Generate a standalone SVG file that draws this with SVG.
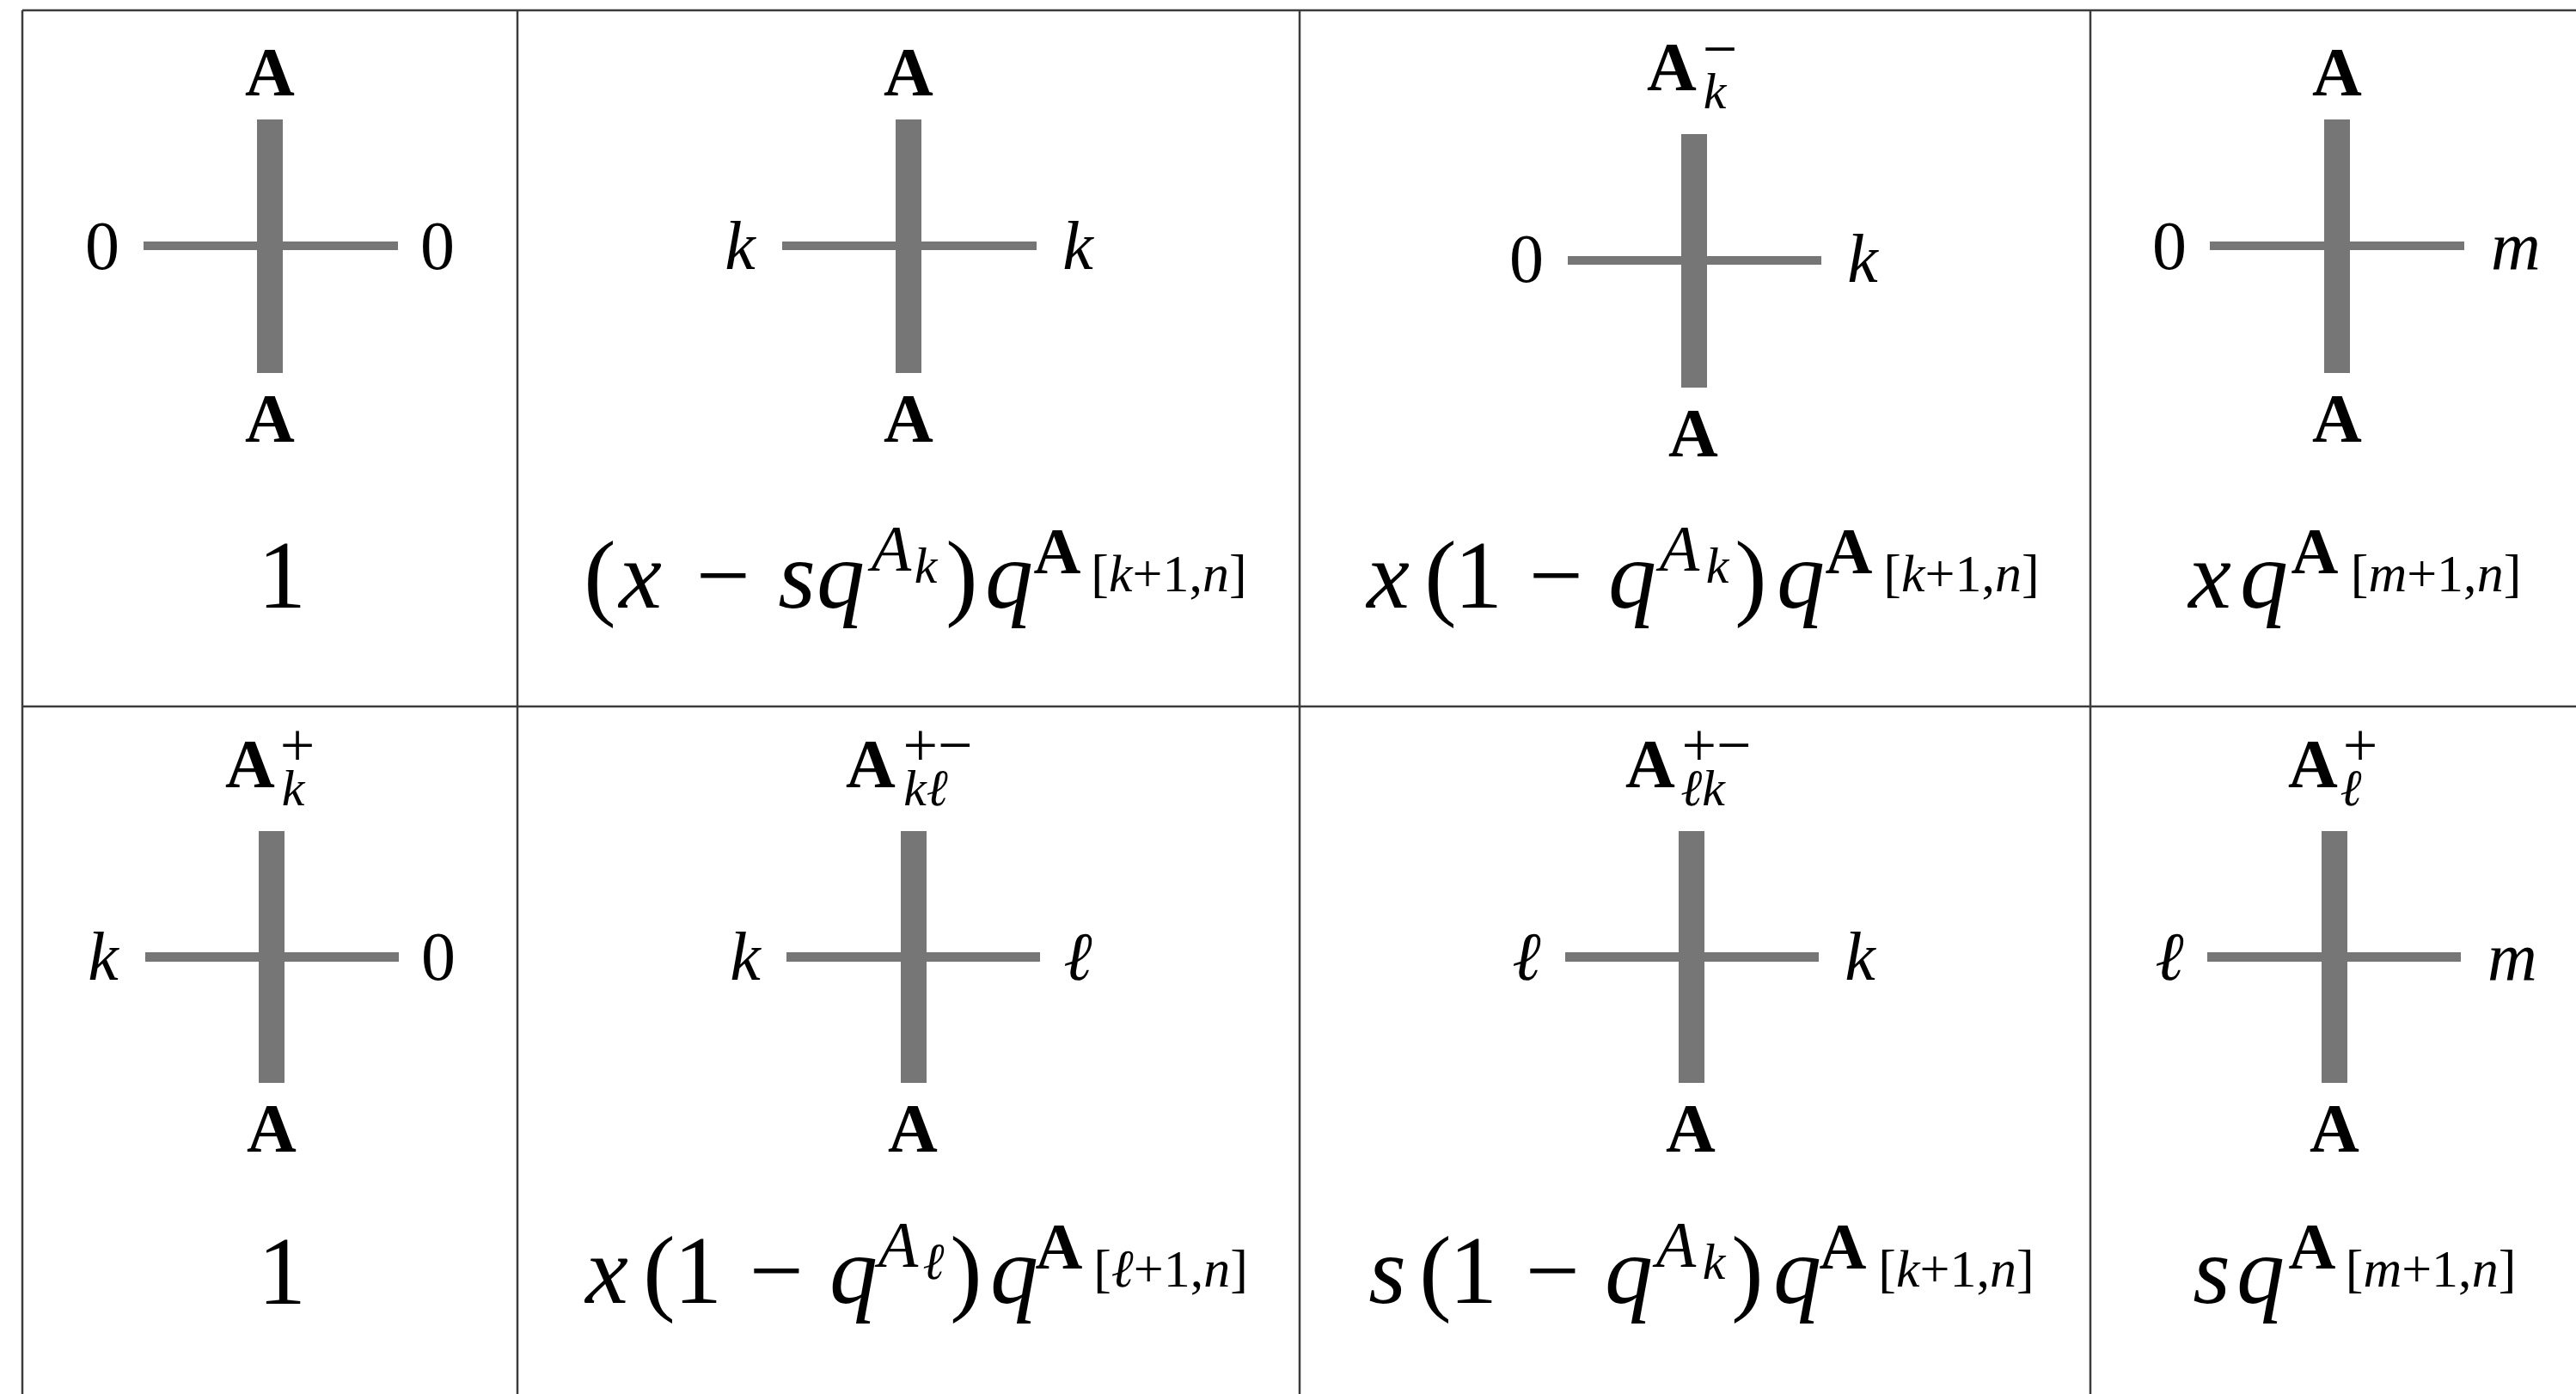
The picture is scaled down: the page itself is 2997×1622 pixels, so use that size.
<svg xmlns="http://www.w3.org/2000/svg" width="2997" height="1622" viewBox="0 0 2997 1622">
<style>
.bar{fill:#767676}
#grid line{stroke:#3c3c3c;stroke-width:2.5}
text{font-family:"Liberation Serif","DejaVu Serif",serif;fill:#000;text-anchor:middle}
.L{font-size:80px}
.b{font-weight:bold}
.i{font-style:italic}
.S{font-size:60px;font-weight:normal}
.P{font-size:72px;font-weight:normal;font-style:normal}
.F{font-size:112px}
.U{font-size:76px}
.D{font-size:60px}
.T{font-size:62px}
</style>
<rect width="2997" height="1622" fill="#fff"/>
<g id="grid">
<line x1="26" y1="12" x2="2997" y2="12"/>
<line x1="26" y1="822" x2="2997" y2="822"/>
<line x1="26" y1="12" x2="26" y2="1622"/>
<line x1="602" y1="12" x2="602" y2="1622"/>
<line x1="1512" y1="12" x2="1512" y2="1622"/>
<line x1="2432" y1="12" x2="2432" y2="1622"/>
</g>

<g id="cell-r1c1">
<rect class="bar" x="167" y="281" width="296" height="10"/>
<rect class="bar" x="299" y="139" width="30" height="295"/>
<text class="L b" x="314" y="111">A</text>
<text class="L" x="119" y="313">0</text>
<text class="L" x="509" y="313">0</text>
<text class="L b" x="314" y="514">A</text>
<text class="F" x="328" y="707">1</text>
</g>

<g id="cell-r1c2">
<rect class="bar" x="910" y="281" width="296" height="10"/>
<rect class="bar" x="1042" y="139" width="30" height="295"/>
<text class="L b" x="1057" y="111">A</text>
<text class="L i" x="861" y="313">k</text>
<text class="L i" x="1254" y="313">k</text>
<text class="L b" x="1057" y="514">A</text>
<text class="F" x="698" y="707">(</text>
<text class="F i" x="745" y="707">x</text>
<text class="F" x="841" y="707">−</text>
<text class="F i" x="927" y="707">s</text>
<text class="F i" x="978" y="707">q</text>
<text class="U i" x="1037" y="664">A</text>
<text class="D i" x="1077" y="678">k</text>
<text class="F" x="1119" y="707">)</text>
<text class="F i" x="1174" y="707">q</text>
<text class="U b" x="1230" y="667">A</text>
<text class="T" x="1360" y="688">[<tspan class="i">k</tspan>+1,<tspan class="i">n</tspan>]</text>
</g>

<g id="cell-r1c3">
<rect class="bar" x="1824" y="298" width="295" height="10"/>
<rect class="bar" x="1956" y="156" width="30" height="295"/>
<text class="L b" x="1945" y="105">A<tspan class="S i" x="1995" y="126">k</tspan><tspan class="P" x="2001" y="81">−</tspan></text>
<text class="L" x="1776" y="328">0</text>
<text class="L i" x="2167" y="328">k</text>
<text class="L b" x="1970" y="531">A</text>
<text class="F i" x="1615" y="707">x</text>
<text class="F" x="1676" y="707">(</text>
<text class="F" x="1720" y="707">1</text>
<text class="F" x="1810" y="707">−</text>
<text class="F i" x="1899" y="707">q</text>
<text class="U i" x="1954" y="664">A</text>
<text class="D i" x="1998" y="678">k</text>
<text class="F" x="2037" y="707">)</text>
<text class="F i" x="2095" y="707">q</text>
<text class="U b" x="2151" y="667">A</text>
<text class="T" x="2282" y="688">[<tspan class="i">k</tspan>+1,<tspan class="i">n</tspan>]</text>
</g>

<g id="cell-r1c4">
<rect class="bar" x="2571" y="281" width="296" height="10"/>
<rect class="bar" x="2704" y="139" width="30" height="295"/>
<text class="L b" x="2719" y="111">A</text>
<text class="L" x="2524" y="313">0</text>
<text class="L i" x="2927" y="313">m</text>
<text class="L b" x="2719" y="514">A</text>
<text class="F i" x="2571" y="707">x</text>
<text class="F i" x="2634" y="707">q</text>
<text class="U b" x="2693" y="667">A</text>
<text class="T" x="2834" y="688">[<tspan class="i">m</tspan>+1,<tspan class="i">n</tspan>]</text>
</g>

<g id="cell-r2c1">
<rect class="bar" x="169" y="1108" width="295" height="11"/>
<rect class="bar" x="301" y="967" width="30" height="293"/>
<text class="L b" x="291" y="916">A<tspan class="S i" x="341" y="937">k</tspan><tspan class="P" x="346" y="891">+</tspan></text>
<text class="L i" x="120" y="1140">k</text>
<text class="L" x="510" y="1140">0</text>
<text class="L b" x="316" y="1340">A</text>
<text class="F" x="328" y="1517">1</text>
</g>

<g id="cell-r2c2">
<rect class="bar" x="915" y="1108" width="295" height="11"/>
<rect class="bar" x="1048" y="967" width="30" height="293"/>
<text class="L b" x="1013" y="916">A<tspan class="S i" x="1077" y="937">kℓ</tspan><tspan class="P" x="1091" y="891">+−</tspan></text>
<text class="L i" x="867" y="1140">k</text>
<text class="L i" x="1254" y="1140">ℓ</text>
<text class="L b" x="1062" y="1340">A</text>
<text class="F i" x="706" y="1516">x</text>
<text class="F" x="767" y="1516">(</text>
<text class="F" x="812" y="1516">1</text>
<text class="F" x="903" y="1516">−</text>
<text class="F i" x="993" y="1516">q</text>
<text class="U i" x="1045" y="1474">A</text>
<text class="D i" x="1086" y="1488">ℓ</text>
<text class="F" x="1124" y="1516">)</text>
<text class="F i" x="1180" y="1516">q</text>
<text class="U b" x="1232" y="1476">A</text>
<text class="T" x="1362" y="1497">[<tspan class="i">ℓ</tspan>+1,<tspan class="i">n</tspan>]</text>
</g>

<g id="cell-r2c3">
<rect class="bar" x="1821" y="1108" width="295" height="11"/>
<rect class="bar" x="1953" y="967" width="30" height="293"/>
<text class="L b" x="1920" y="916">A<tspan class="S i" x="1981" y="937">ℓk</tspan><tspan class="P" x="1997" y="891">+−</tspan></text>
<text class="L i" x="1776" y="1140">ℓ</text>
<text class="L i" x="2164" y="1140">k</text>
<text class="L b" x="1967" y="1340">A</text>
<text class="F i" x="1614" y="1516">s</text>
<text class="F" x="1670" y="1516">(</text>
<text class="F" x="1714" y="1516">1</text>
<text class="F" x="1806" y="1516">−</text>
<text class="F i" x="1895" y="1516">q</text>
<text class="U i" x="1950" y="1474">A</text>
<text class="D i" x="1994" y="1488">k</text>
<text class="F" x="2033" y="1516">)</text>
<text class="F i" x="2091" y="1516">q</text>
<text class="U b" x="2144" y="1476">A</text>
<text class="T" x="2276" y="1497">[<tspan class="i">k</tspan>+1,<tspan class="i">n</tspan>]</text>
</g>

<g id="cell-r2c4">
<rect class="bar" x="2568" y="1108" width="295" height="11"/>
<rect class="bar" x="2701" y="967" width="30" height="293"/>
<text class="L b" x="2691" y="916">A<tspan class="S i" x="2735" y="937">ℓ</tspan><tspan class="P" x="2746" y="891">+</tspan></text>
<text class="L i" x="2524" y="1140">ℓ</text>
<text class="L i" x="2923" y="1140">m</text>
<text class="L b" x="2716" y="1340">A</text>
<text class="F i" x="2573" y="1516">s</text>
<text class="F i" x="2630" y="1516">q</text>
<text class="U b" x="2690" y="1476">A</text>
<text class="T" x="2828" y="1497">[<tspan class="i">m</tspan>+1,<tspan class="i">n</tspan>]</text>
</g>
</svg>
